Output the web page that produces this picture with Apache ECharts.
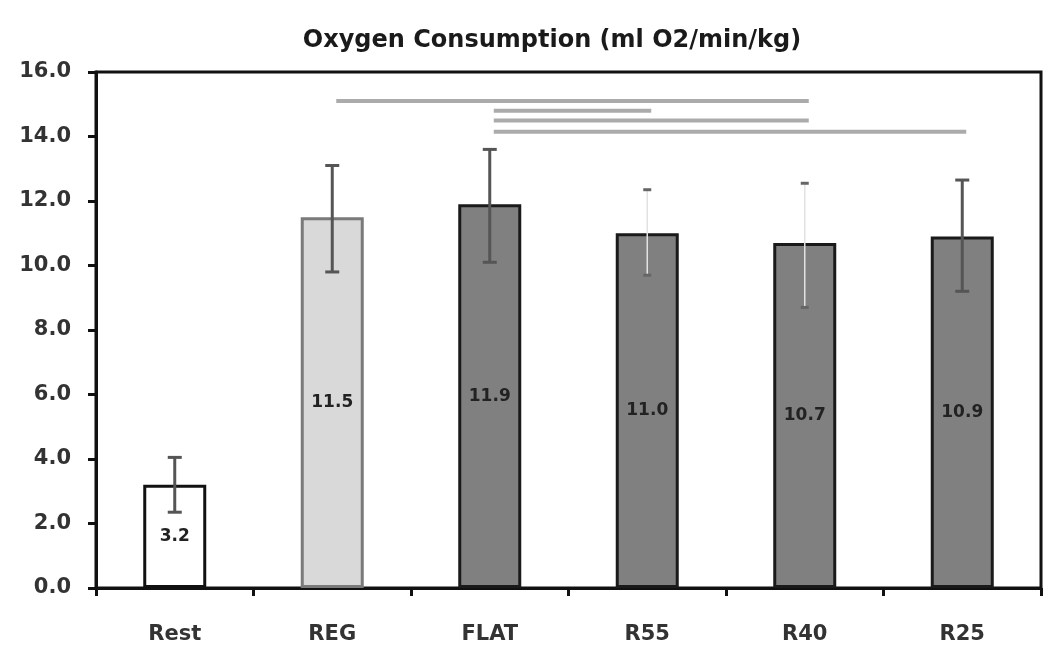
<!DOCTYPE html>
<html><head><meta charset="utf-8">
<script src="https://cdn.jsdelivr.net/npm/echarts@6/dist/echarts.min.js"></script>
<style>html,body{margin:0;padding:0;background:#fff}#c{width:1050px;height:659px}</style>
</head><body><div id="c"></div>
<script>
const categories = ['Rest', 'REG', 'FLAT', 'R55', 'R40', 'R25'];
const means = [3.2, 11.5, 11.9, 11.0, 10.7, 10.9];
const errLow = [2.35, 9.8, 10.1, 9.7, 8.7, 9.2];
const errHigh = [4.05, 13.1, 13.6, 12.35, 12.55, 12.65];
// significance bars: [fromCategoryIndex, toCategoryIndex, yValue]
const sigFrom = [1, 2, 2, 2];
const sigTo = [4, 3, 4, 5];
const sigY = [15.1, 14.8, 14.5, 14.15];
const yTicks = [0, 2, 4, 6, 8, 10, 12, 14, 16];

const fillColors = ['#ffffff', '#d9d9d9', '#808080', '#808080', '#808080', '#808080'];
const borderColors = ['#111111', '#7a7a7a', '#1a1a1a', '#1a1a1a', '#1a1a1a', '#1a1a1a'];
const faintErr = [false, false, false, true, true, false];

const FONT = 'DejaVu Sans';
const chart = echarts.init(document.getElementById('c'), null, {renderer: 'canvas'});

const barData = means.map((v, i) => ({
  value: v,
  itemStyle: {color: fillColors[i], borderColor: borderColors[i], borderWidth: 3}
}));

chart.setOption({
  animation: false,
  title: {
    text: 'Oxygen Consumption (ml O2/min/kg)',
    left: 547, top: 24, textAlign: 'center',
    textStyle: {fontFamily: FONT, fontWeight: 'bold', fontSize: 24, color: '#1a1a1a'}
  },
  grid: {left: 96, right: 9, top: 72, bottom: 71, show: true, borderColor: '#111', borderWidth: 3, backgroundColor: 'transparent'},
  xAxis: {
    type: 'category', data: categories,
    axisLine: {lineStyle: {color: '#111', width: 3}},
    axisTick: {show: true, length: 8, lineStyle: {color: '#111', width: 3}},
    axisLabel: {fontFamily: FONT, fontWeight: 'bold', fontSize: 21, color: '#333', margin: 36}
  },
  yAxis: {
    type: 'value', min: yTicks[0], max: yTicks[yTicks.length - 1], interval: 2,
    splitLine: {show: false},
    axisLine: {show: true, lineStyle: {color: '#111', width: 3}},
    axisTick: {show: true, length: 8, lineStyle: {color: '#111', width: 3}},
    axisLabel: {fontFamily: FONT, fontWeight: 'bold', fontSize: 21, color: '#333', margin: 25,
      formatter: v => v.toFixed(1)}
  },
  series: [
    {
      type: 'bar', data: barData, barWidth: '40%',
      label: {show: true, position: 'inside', fontFamily: FONT, fontWeight: 'bold', fontSize: 17, color: '#222',
        formatter: p => p.value.toFixed(1)},
      z: 2
    },
    {
      type: 'custom', z: 5,
      data: categories.map((c, i) => [i, errLow[i], errHigh[i]]),
      renderItem: (params, api) => {
        const i = api.value(0);
        const lo = api.coord([i, api.value(1)]);
        const hi = api.coord([i, api.value(2)]);
        const faint = faintErr[i];
        const lineColor = faint ? '#e2e2e2' : '#555';
        const capColor = faint ? '#666' : '#555';
        const cw = faint ? 4 : 7;
        return {type: 'group', children: [
          {type: 'line', shape: {x1: lo[0], y1: lo[1], x2: hi[0], y2: hi[1]}, style: {stroke: lineColor, lineWidth: faint ? 1.5 : 3}},
          {type: 'line', shape: {x1: hi[0] - cw, y1: hi[1], x2: hi[0] + cw, y2: hi[1]}, style: {stroke: capColor, lineWidth: 3}},
          {type: 'line', shape: {x1: lo[0] - cw, y1: lo[1], x2: lo[0] + cw, y2: lo[1]}, style: {stroke: capColor, lineWidth: 3}}
        ]};
      }
    },
    {
      type: 'custom', z: 5,
      data: sigFrom.map((f, i) => [f, sigTo[i], sigY[i]]),
      renderItem: (params, api) => {
        const a = api.coord([api.value(0), api.value(2)]);
        const b = api.coord([api.value(1), api.value(2)]);
        return {type: 'line', shape: {x1: a[0] + 4, y1: a[1], x2: b[0] + 4, y2: b[1]}, style: {stroke: '#ababab', lineWidth: 4}};
      }
    }
  ]
});
</script>
</body></html>
